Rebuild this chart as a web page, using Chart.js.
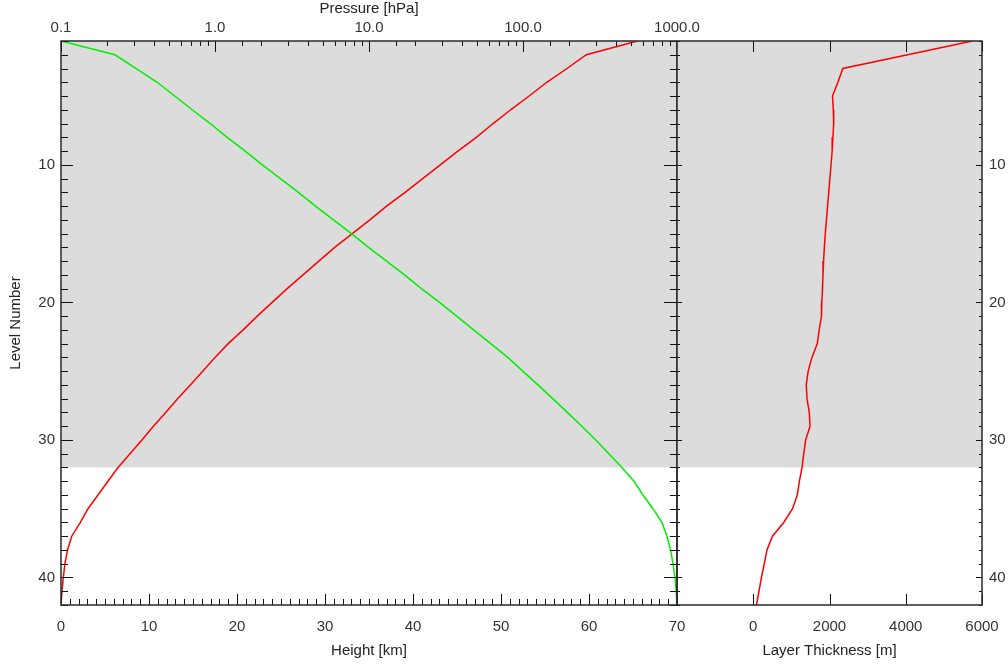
<!DOCTYPE html>
<html>
<head>
<meta charset="utf-8">
<title>Model levels</title>
<script src="https://cdn.jsdelivr.net/npm/chart.js@4.4.0/dist/chart.umd.min.js"></script>
<style>
  html, body { margin: 0; padding: 0; background: #fff; }
  #wrap { position: relative; width: 1008px; height: 665px; overflow: hidden; }
  #wrap canvas { position: absolute; top: 0; }
  #left-panel { left: 0; }
  #right-panel { left: 640px; }
</style>
</head>
<body>
<div id="wrap">
  <canvas id="left-panel" width="720" height="665"></canvas>
  <!-- a bit wider than the page: the last x label's padding eats into the right axis -->
  <canvas id="right-panel" width="372" height="665"></canvas>
</div>
<script>
// ---- data ----
const levels = [1, 2, 3, 4, 5, 6, 7, 8, 9, 10, 11, 12, 13, 14, 15, 16, 17, 18, 19, 20, 21,
                22, 23, 24, 25, 26, 27, 28, 29, 30, 31, 32, 33, 34, 35, 36, 37, 38, 39, 40, 41, 42];

// hPa (top axis, log)
const pressure = [0.1, 0.224, 0.308, 0.421, 0.547, 0.711, 0.931, 1.20, 1.57, 2.03, 2.66,
                  3.48, 4.49, 5.88, 7.69, 9.93, 13.0, 17.0, 21.9, 28.7, 37.1, 47.8, 61.7,
                  79.6, 99.6, 125, 156, 194, 241, 297, 361, 439, 525, 601, 698, 798, 861,
                  908, 942, 971, 988, 1000];

// km (bottom axis)
const heightKm = [65.5, 59.7, 57.5, 55.2, 53.2, 51.1, 49.1, 47.2, 45.1, 43.1, 41.1, 39.1,
                  37.0, 35.1, 33.1, 31.1, 29.3, 27.5, 25.7, 24.0, 22.3, 20.7, 19.0, 17.5,
                  16.1, 14.7, 13.25, 11.9, 10.5, 9.2, 7.84, 6.48, 5.34, 4.2, 3.07, 2.2,
                  1.22, 0.74, 0.45, 0.26, 0.11, 0];

// m (right panel)
const thickness = [5750, 4050, 2350, 2220, 2080, 2100, 2110, 2090, 2070, 2040, 2010, 1980,
                   1950, 1920, 1890, 1865, 1845, 1830, 1815, 1800, 1790, 1730, 1680, 1540,
                   1440, 1390, 1410, 1470, 1490, 1375, 1325, 1280, 1210, 1155, 1030, 800,
                   505, 360, 290, 215, 150, 85];

const shadedLevels = [1, 32];      // grey band
const thicknessTicks = [0, 2000, 4000, 6000];

Chart.defaults.font.family = '"Liberation Sans", Arial, Helvetica, sans-serif';
Chart.defaults.font.size = 15;
Chart.defaults.color = '#222';

const toPoints = (xs) => xs.map((v, i) => ({ x: v, y: levels[i] }));
const isDecade = (v) => Math.abs(Math.log10(v) - Math.round(Math.log10(v))) < 1e-9;

function seg(ctx, x1, y1, x2, y2) {
    ctx.beginPath();
    ctx.moveTo(x1, y1);
    ctx.lineTo(x2, y2);
    ctx.stroke();
}
const crisp = (v) => Math.round(v) + 0.5;

// grey band behind the lines
const shadePlugin = {
    id: 'shade',
    beforeDatasetsDraw(chart) {
        const { ctx, chartArea: a, scales } = chart;
        const y1 = scales.y.getPixelForValue(shadedLevels[0]);
        const y2 = scales.y.getPixelForValue(shadedLevels[1]);
        ctx.save();
        ctx.fillStyle = '#dcdcdc';
        ctx.fillRect(a.left, y1, a.right - a.left, y2 - y1);
        ctx.restore();
    }
};

function levelTicks(ctx, chart, leftLen, rightLen) {
    const a = chart.chartArea;
    for (const lv of levels) {
        const y = crisp(chart.scales.y.getPixelForValue(lv));
        const major = lv % 10 === 0;
        seg(ctx, a.left, y, a.left + leftLen[major ? 0 : 1], y);
        seg(ctx, a.right, y, a.right - rightLen[major ? 0 : 1], y);
    }
}

function frame(ctx, a) {
    ctx.save();
    ctx.strokeStyle = '#2a2a2a';
    ctx.lineWidth = 1.5;
    ctx.strokeRect(a.left, a.top, a.right - a.left, a.bottom - a.top);
    ctx.restore();
}

// inward tick marks for the left panel
const leftTicks = {
    id: 'leftTicks',
    afterDraw(chart) {
        const { ctx, chartArea: a, scales } = chart;
        ctx.save();
        ctx.strokeStyle = '#111';
        ctx.lineWidth = 1;
        levelTicks(ctx, chart, [12, 7], [13, 7]);
        // height: every km, longer every 10
        for (let h = 0; h <= 70; h++) {
            const x = crisp(scales.xh.getPixelForValue(h));
            seg(ctx, x, a.bottom, x, a.bottom - (h % 10 === 0 ? 11 : 6));
        }
        // pressure: log ticks
        scales.xp.ticks.forEach(t => {
            const x = crisp(scales.xp.getPixelForValue(t.value));
            seg(ctx, x, a.top, x, a.top + (isDecade(t.value) ? 11 : 5));
        });
        ctx.restore();
        frame(ctx, a);
    }
};

const rightTicks = {
    id: 'rightTicks',
    afterDraw(chart) {
        const { ctx, chartArea: a, scales } = chart;
        ctx.save();
        ctx.strokeStyle = '#111';
        ctx.lineWidth = 1;
        levelTicks(ctx, chart, [5, 3], [6, 3]);
        thicknessTicks.forEach(t => {
            const x = crisp(scales.xt.getPixelForValue(t));
            seg(ctx, x, a.bottom, x, a.bottom - 11);
            seg(ctx, x, a.top, x, a.top + 11);
        });
        ctx.restore();
        frame(ctx, a);
    }
};

const levelAxis = (position, width, pad) => ({
    type: 'linear',
    position: position,
    reverse: true,
    min: 1,
    max: 42,
    grid: { display: false, drawTicks: false },
    border: { display: false },
    ticks: {
        stepSize: 1,
        autoSkip: false,
        padding: pad,
        color: '#333',
        callback: v => (v % 10 === 0 ? String(v) : '')
    },
    afterFit: s => { s.width = width; }
});

// left panel: pressure (top, log) and height (bottom)
new Chart(document.getElementById('left-panel'), {
    type: 'scatter',
    data: {
        datasets: [
            {
                label: 'Pressure',
                data: toPoints(pressure),
                xAxisID: 'xp',
                yAxisID: 'y',
                showLine: true,
                borderColor: '#00ee00',
                borderWidth: 1.5,
                pointRadius: 0,
                tension: 0
            },
            {
                label: 'Height',
                data: toPoints(heightKm),
                xAxisID: 'xh',
                yAxisID: 'y',
                showLine: true,
                borderColor: '#ff0000',
                borderWidth: 1.5,
                pointRadius: 0,
                tension: 0
            }
        ]
    },
    options: {
        responsive: false,
        animation: false,
        layout: { padding: { left: 0, right: 43, top: 0, bottom: 0 } },
        plugins: { legend: { display: false }, tooltip: { enabled: false } },
        scales: {
            xh: {
                type: 'linear',
                position: 'bottom',
                min: 0,
                max: 70,
                grid: { display: false, drawTicks: false },
                border: { display: false },
                ticks: { stepSize: 10, padding: 13, maxRotation: 0, color: '#333' },
                title: { display: true, text: 'Height [km]', padding: { top: 0, bottom: 5 } },
                afterFit: s => { s.height = 60; }
            },
            xp: {
                type: 'logarithmic',
                position: 'top',
                min: 0.1,
                max: 1000,
                grid: { display: false, drawTicks: false },
                border: { display: false },
                ticks: {
                    autoSkip: false,
                    maxRotation: 0,
                    padding: 4,
                    color: '#333',
                    callback: v => (isDecade(v) ? Number(v).toFixed(1) : '')
                },
                title: { display: true, text: 'Pressure [hPa]', padding: { top: 0, bottom: 0 } },
                afterFit: s => { s.height = 41; }
            },
            y: Object.assign(levelAxis('left', 61, 6), {
                title: { display: true, text: 'Level Number', padding: { top: 7, bottom: 0 } }
            })
        }
    },
    plugins: [shadePlugin, leftTicks]
});

// right panel: layer thickness
new Chart(document.getElementById('right-panel'), {
    type: 'scatter',
    data: {
        datasets: [{
            label: 'Layer Thickness',
            data: toPoints(thickness),
            xAxisID: 'xt',
            yAxisID: 'y',
            showLine: true,
            borderColor: '#ff0000',
            borderWidth: 1.5,
            pointRadius: 0,
            tension: 0
        }]
    },
    options: {
        responsive: false,
        animation: false,
        layout: { padding: { left: 37, right: 0, top: 41, bottom: 0 } },
        plugins: { legend: { display: false }, tooltip: { enabled: false } },
        scales: {
            xt: {
                type: 'linear',
                position: 'bottom',
                min: -2000,
                max: 6000,
                grid: { display: false, drawTicks: false },
                border: { display: false },
                ticks: {
                    stepSize: 2000,
                    padding: 13,
                    maxRotation: 0,
                    color: '#333',
                    callback: v => (v < 0 ? '' : String(v))
                },
                title: { display: true, text: 'Layer Thickness [m]', padding: { top: 0, bottom: 5 } },
                afterFit: s => { s.height = 60; }
            },
            y: levelAxis('right', 30, 7)
        }
    },
    plugins: [shadePlugin, rightTicks]
});
</script>
</body>
</html>
